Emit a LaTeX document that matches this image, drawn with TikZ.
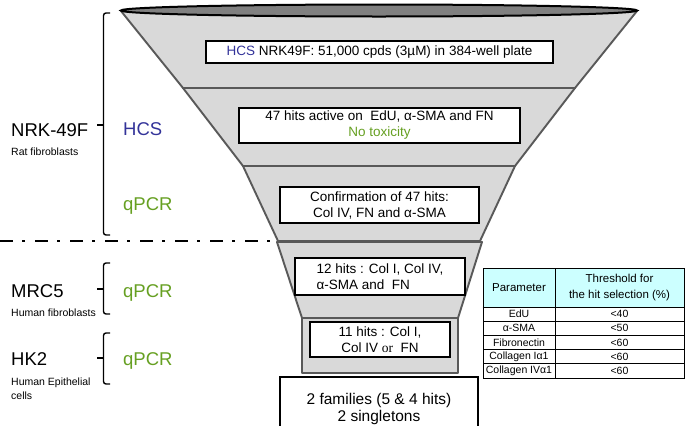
\documentclass[tikz,border=0pt]{standalone}
\usepackage{fontspec}
\setmainfont{Liberation Sans}
\newfontfamily\serifor{Liberation Serif}
\definecolor{funfill}{HTML}{D9D9D9}
\definecolor{funedge}{HTML}{595959}
\definecolor{topfill}{HTML}{808080}
\definecolor{hcsblue}{HTML}{333399}
\definecolor{pcrgreen}{HTML}{66A022}
\definecolor{hdrcyan}{HTML}{CCFFFF}
\begin{document}
\begin{tikzpicture}[x=1pt,y=-1pt,
  funnel/.style={fill=funfill,draw=funedge,line width=1.9pt,line join=round},
  topcap/.style={fill=topfill,draw=black,line width=2pt},
  hitbox/.style={draw=black,fill=white,line width=2.2pt,inner sep=0pt,align=center,
     font=\fontsize{13.5}{16}\selectfont},
  biglabel/.style={anchor=base west,inner sep=0pt,font=\fontsize{18.5}{22}\selectfont},
  smalllabel/.style={anchor=base west,inner sep=0pt,font=\fontsize{10.5}{14}\selectfont},
  brace/.style={draw=black,line width=1.4pt,rounded corners=2.5pt},
  cellbox/.style={draw=black,line width=0.8pt,inner sep=0pt,align=center,
     font=\fontsize{10.5}{12}\selectfont},
  hdrcell/.style={cellbox,fill=hdrcyan,minimum height=39pt,font=\fontsize{11.5}{16}\selectfont}
]
\useasboundingbox (0,0) rectangle (697,426);
\fill[white] (0,0) rectangle (697,426);

% funnel sections
\draw[funnel] (121,11) -- (637,11) -- (575,88) -- (183,88) -- cycle;
\draw[funnel] (183,88) -- (575,88) -- (515,166) -- (243,166) -- cycle;
\draw[funnel] (243,166) -- (515,166) -- (480,241) -- (278,241) -- cycle;
\draw[funnel] (277,242) -- (482,242) -- (458,318) -- (302,318) -- cycle;
\draw[funnel] (302,318) rectangle (458,373);
% top opening
\draw[topcap] (379,10.5) ellipse [x radius=258pt, y radius=6pt];

% boxes in funnel
\node[hitbox,minimum width=347pt,minimum height=22pt] (b1) at (379.5,52)
  {\textcolor{hcsblue}{HCS} NRK49F: 51,000 cpds (3µM) in 384-well plate};
\node[hitbox,minimum width=281pt,minimum height=35pt] (b2) at (379.5,125.5)
  {47 hits active on \ EdU, α-SMA and FN\\\textcolor{pcrgreen}{No toxicity}};
\node[hitbox,minimum width=199pt,minimum height=36pt] (b3) at (379.5,205)
  {Confirmation of 47 hits:\\Col IV, FN and α-SMA};
\node[hitbox,minimum width=170pt,minimum height=37pt,align=left] (b4) at (380,276.5)
  {12 hits : Col I, Col IV,\\α-SMA and \ FN};
\node[hitbox,minimum width=140pt,minimum height=35pt] (b5) at (380,339.5)
  {11 hits : Col I,\\Col IV {\serifor or} \ FN};
\node[hitbox,minimum width=198pt,minimum height=64pt,font=\fontsize{15.5}{16.5}\selectfont] (b6) at (379,409)
  {2 families (5 \& 4 hits)\\2 singletons};

% dash-dot separator
\coordinate (dl) at (0,241);
\coordinate (dr) at (277,241);
\draw[line width=2.5pt,dash pattern=on 13pt off 9pt on 3pt off 10pt] (dl) -- (dr);

% left labels
\node[biglabel] (nrk) at (11,136) {NRK-49F};
\node[smalllabel] (rat) at (11,155) {Rat fibroblasts};
\node[biglabel,text=hcsblue] (hcs) at (123,135) {HCS};
\node[biglabel,text=pcrgreen] (q1) at (123,210) {qPCR};

\node[biglabel] (mrc) at (11,297) {MRC5};
\node[smalllabel] (hf) at (11,316) {Human fibroblasts};
\node[biglabel,text=pcrgreen] (q2) at (123,297) {qPCR};

\node[biglabel] (hk) at (11,365) {HK2};
\node[smalllabel,align=left] (he) at (11,385) {Human Epithelial};
\node[smalllabel] (hc) at (11,399) {cells};
\node[biglabel,text=pcrgreen] (q3) at (123,365) {qPCR};

% braces
\draw[brace] (110,13) -- (103.5,13) -- (103.5,235) -- (110,235);
\draw[line width=1.4pt] (103.5,125) -- (97,125);
\draw[brace] (110,263) -- (103.5,263) -- (103.5,314) -- (110,314);
\draw[line width=1.4pt] (103.5,289) -- (97,289);
\draw[brace] (110,333) -- (103.5,333) -- (103.5,384) -- (110,384);
\draw[line width=1.4pt] (103.5,358) -- (97,358);

% table
\node[hdrcell,minimum width=72pt] (h1) at (519,287.5) {Parameter};
\node[hdrcell,minimum width=129pt] (h2) at (619.5,287.5) {Threshold for\\the hit selection (\%)};
\node[cellbox,minimum width=72pt,minimum height=14.2pt] (r1a) at (519,314.1) {EdU};
\node[cellbox,minimum width=129pt,minimum height=14.2pt] (r1b) at (619.5,314.1) {<40};
\node[cellbox,minimum width=72pt,minimum height=14.2pt] (r2a) at (519,328.3) {α-SMA};
\node[cellbox,minimum width=129pt,minimum height=14.2pt] (r2b) at (619.5,328.3) {<50};
\node[cellbox,minimum width=72pt,minimum height=14.2pt] (r3a) at (519,342.5) {Fibronectin};
\node[cellbox,minimum width=129pt,minimum height=14.2pt] (r3b) at (619.5,342.5) {<60};
\node[cellbox,minimum width=72pt,minimum height=14.2pt] (r4a) at (519,356.7) {Collagen Iα1};
\node[cellbox,minimum width=129pt,minimum height=14.2pt] (r4b) at (619.5,356.7) {<60};
\node[cellbox,minimum width=72pt,minimum height=14.2pt] (r5a) at (519,370.9) {Collagen IVα1};
\node[cellbox,minimum width=129pt,minimum height=14.2pt] (r5b) at (619.5,370.9) {<60};
\draw[line width=1.5pt] (h1.south west) -- (h2.south east);
\end{tikzpicture}
\end{document}
